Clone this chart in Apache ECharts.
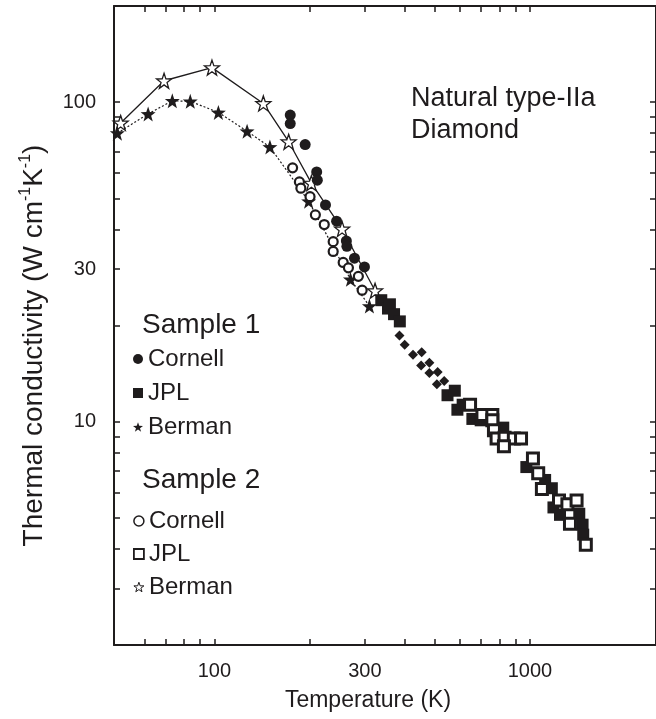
<!DOCTYPE html>
<html>
<head>
<meta charset="utf-8">
<script src="https://cdn.jsdelivr.net/npm/echarts@6/dist/echarts.min.js"></script>
<style>
html, body { margin: 0; padding: 0; background: #fff; }
#main { width: 656px; height: 719px; }
</style>
</head>
<body>
<div id="main"></div>
<script>
// axis ticks / labels
const xTickValues = [60, 70, 80, 90, 100, 200, 300, 400, 500, 600, 700, 800, 900, 1000];
const xLabelValues = [100, 300, 1000];
const yTickValues = [3, 4, 5, 6, 7, 8, 9, 10, 20, 30, 40, 50, 60, 70, 80, 90, 100];
const yLabelValues = [10, 30, 100];

// [temperature K, conductivity W/cm/K]
const cornell1 = [[174, 91.1], [174, 85.7], [194, 73.7], [211, 60.5], [212, 57.0], [225, 47.7],
  [244, 42.4], [262, 36.8], [263, 35.4], [278, 32.5], [299, 30.5]];
const cornell1Hi = [[386, 18.6], [401, 17.4], [426, 16.2], [454, 16.5], [452, 15.0], [480, 15.3],
  [480, 14.2], [510, 14.3], [507, 13.1], [535, 13.4]];
const jpl1 = [[338, 24.0], [355, 22.6], [360, 23.3], [371, 21.7], [387, 20.6], [548, 12.1], [578, 12.5],
  [589, 10.9], [612, 11.3], [657, 10.2], [698, 10.1], [823, 9.58], [974, 7.21], [1117, 6.57],
  [1173, 6.19], [1187, 5.39], [1245, 5.11], [1433, 5.15], [1468, 4.76], [1475, 4.43]];
const berman1 = [[49.3, 80.0], [61.7, 91.9], [73.6, 101], [83.9, 100.6], [103, 92.9], [127, 81.1],
  [150, 72.4], [199, 49.0], [270, 27.9], [310, 23.0]];
const cornell2 = [[177, 62.3], [186, 56.3], [188, 53.8], [201, 50.6], [209, 44.4], [223, 41.4],
  [238, 36.6], [238, 34.1], [256, 31.5], [266, 30.3], [286, 28.5], [294, 25.8]];
const jpl2 = [[646, 11.3], [707, 10.5], [760, 10.5], [760, 10.1], [769, 9.40], [784, 8.86], [831, 8.90],
  [889, 8.86], [937, 8.86], [827, 8.38], [1022, 7.67], [1062, 6.89], [1091, 6.16], [1236, 5.67],
  [1314, 5.52], [1405, 5.67], [1339, 4.79], [1503, 4.12]];
const berman2 = [[50.5, 86.1], [69.3, 116.7], [98.3, 128.3], [143, 99.1], [172, 75.2], [203, 55.8],
  [254, 40.1], [323, 25.7]];

const ink = '#1f1c1d';
const font = 'Liberation Sans, Arial, sans-serif';
const STAR = 'path://M0,-10L2.35,-3.24L9.51,-3.09L3.8,1.24L5.88,8.09L0,4L-5.88,8.09L-3.8,1.24L-9.51,-3.09L-2.35,-3.24Z';

const chart = echarts.init(document.getElementById('main'));

const tickStyle = { show: true, inside: true, length: 6, lineStyle: { color: ink, width: 1.5 } };
const lineStyleAxis = { show: true, lineStyle: { color: ink, width: 2 } };
const filled = { color: ink, opacity: 1 };
const hollow = { color: '#fff', borderColor: ink, opacity: 1 };

const legendBase = {
  orient: 'vertical',
  left: 133,
  padding: 0,
  itemWidth: 10,
  itemHeight: 10,
  itemGap: 10,
  selectedMode: false,
  formatter: name => name.replace(/ \d$/, ''),
  textStyle: { fontFamily: font, fontSize: 24, color: ink }
};

chart.setOption({
  animation: false,
  backgroundColor: '#fff',
  title: [
    { text: 'Natural type-IIa\nDiamond', left: 411, top: 83, padding: 0,
      textStyle: { fontFamily: font, fontSize: 27, fontWeight: 'normal', color: ink, lineHeight: 32 } },
    { text: 'Sample 1', left: 142, top: 311, padding: 0,
      textStyle: { fontFamily: font, fontSize: 28, fontWeight: 'normal', color: ink } },
    { text: 'Sample 2', left: 142, top: 466, padding: 0,
      textStyle: { fontFamily: font, fontSize: 28, fontWeight: 'normal', color: ink } }
  ],
  legend: [
    Object.assign({}, legendBase, {
      top: 347,
      data: [
        { name: 'Cornell 1', icon: 'circle', itemStyle: Object.assign({}, filled) },
        { name: 'JPL 1', icon: 'rect', itemStyle: Object.assign({}, filled) },
        { name: 'Berman 1', icon: STAR, itemStyle: Object.assign({}, filled) }
      ]
    }),
    Object.assign({}, legendBase, {
      top: 509, itemGap: 9,
      data: [
        { name: 'Cornell 2', icon: 'circle', itemStyle: Object.assign({ borderWidth: 1.5 }, hollow) },
        { name: 'JPL 2', icon: 'rect', itemStyle: Object.assign({ borderWidth: 1.8 }, hollow) },
        { name: 'Berman 2', icon: STAR, itemStyle: Object.assign({ borderWidth: 1 }, hollow) }
      ]
    })
  ],
  grid: { left: 114, right: -4, top: 6, bottom: 74, containLabel: false },
  xAxis: [
    {
      type: 'log', min: 48.1, max: 2508,
      name: 'Temperature (K)', nameLocation: 'middle', nameGap: 44,
      nameTextStyle: { fontFamily: font, fontSize: 23, color: ink, padding: [0, 34, 0, 0] },
      axisLine: lineStyleAxis,
      axisTick: Object.assign({ customValues: xTickValues }, tickStyle),
      axisLabel: { customValues: xLabelValues, formatter: v => String(v),
        fontFamily: font, fontSize: 20, color: ink, margin: 16 },
      splitLine: { show: false }, minorTick: { show: false }
    },
    {
      type: 'log', min: 48.1, max: 2508, position: 'top',
      axisLine: lineStyleAxis,
      axisTick: Object.assign({ customValues: xTickValues }, tickStyle),
      axisLabel: { show: false },
      splitLine: { show: false }
    }
  ],
  yAxis: [
    {
      type: 'log', min: 2, max: 200,
      name: 'Thermal conductivity (W cm{s|-1}K{s|-1})', nameLocation: 'middle', nameGap: 62,
      nameTextStyle: {
        fontFamily: font, fontSize: 28, color: ink, lineHeight: 34, padding: [0, 40, 0, 0],
        rich: { s: { fontFamily: font, fontSize: 16, color: ink, verticalAlign: 'top' } }
      },
      axisLine: lineStyleAxis,
      axisTick: Object.assign({ customValues: yTickValues }, tickStyle),
      axisLabel: { customValues: yLabelValues, formatter: v => String(v),
        fontFamily: font, fontSize: 20, color: ink, margin: 18 },
      splitLine: { show: false }
    },
    {
      type: 'log', min: 2, max: 200, position: 'right',
      axisLine: lineStyleAxis,
      axisTick: Object.assign({ customValues: yTickValues }, tickStyle),
      axisLabel: { show: false },
      splitLine: { show: false }
    }
  ],
  series: [
    { name: 'Berman 2', type: 'line', data: berman2, symbol: STAR, symbolSize: 15, showAllSymbol: true,
      itemStyle: Object.assign({ borderWidth: 1.3 }, hollow),
      lineStyle: { color: ink, width: 1.3 }, z: 3 },
    { name: 'Berman 1', type: 'line', data: berman1, symbol: STAR, symbolSize: 15, showAllSymbol: true,
      itemStyle: filled,
      lineStyle: { color: ink, width: 1.2, type: [2, 2] }, z: 3 },
    { name: 'Cornell 2', type: 'scatter', data: cornell2, symbol: 'circle', symbolSize: 9,
      itemStyle: Object.assign({ borderWidth: 2.2 }, hollow), z: 4 },
    { name: 'Cornell 1', type: 'scatter', data: cornell1, symbol: 'circle', symbolSize: 11,
      itemStyle: filled, z: 4 },
    { name: 'Cornell 1', type: 'scatter', data: cornell1Hi, symbol: 'diamond', symbolSize: 10,
      itemStyle: filled, z: 4 },
    { name: 'JPL 1', type: 'scatter', data: jpl1, symbol: 'rect', symbolSize: 12,
      itemStyle: filled, z: 4 },
    { name: 'JPL 2', type: 'scatter', data: jpl2, symbol: 'rect', symbolSize: 11,
      itemStyle: Object.assign({ borderWidth: 3 }, hollow), z: 5 }
  ]
});
</script>
</body>
</html>
